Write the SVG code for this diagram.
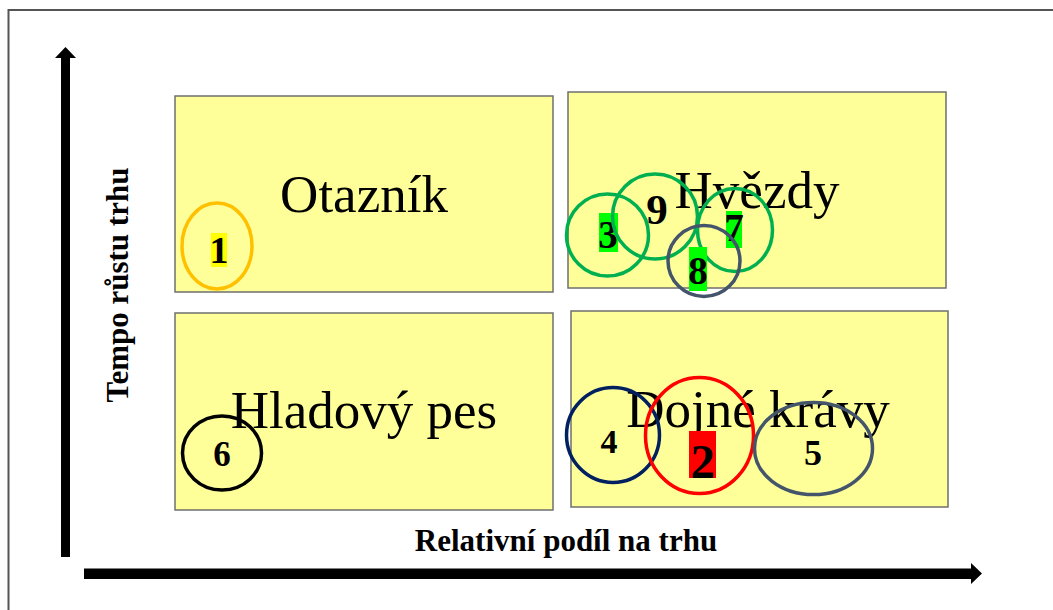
<svg xmlns="http://www.w3.org/2000/svg" width="1053" height="610" viewBox="0 0 1053 610">
<style>
.q{fill:#FFFF99;stroke:#6f6f6f;stroke-width:1.5}
.t{font-family:"Liberation Serif",serif;font-size:53px;fill:#000;text-anchor:middle}
.ax{font-family:"Liberation Serif",serif;font-size:31px;font-weight:bold;fill:#000;text-anchor:middle}
.n{font-family:"Liberation Serif",serif;font-weight:bold;fill:#000;text-anchor:middle}
.c{fill:none;stroke-width:3.5}
</style>
<rect width="1053" height="610" fill="#fff"/>
<rect x="8.5" y="10" width="1100" height="700" fill="none" stroke="#555" stroke-width="2"/>
<g id="q-otaznik"><rect class="q" x="175" y="96" width="378" height="196"/><text class="t" x="364" y="212">Otazník</text></g>
<g id="q-hvezdy"><rect class="q" x="568" y="92" width="378" height="196"/><text class="t" x="757" y="208">Hvězdy</text></g>
<g id="q-pes"><rect class="q" x="175" y="313" width="378" height="197"/><text class="t" x="364" y="428">Hladový pes</text></g>
<g id="q-kravy"><rect class="q" x="571" y="311" width="377" height="196"/><text class="t" x="758" y="427">Dojné krávy</text></g>
<g id="axes">
<path d="M61,557 V58 H55 L65.5,47 L76,58 H70 V557 Z" fill="#000"/>
<path d="M84,568.5 H971 V563 L982,573.5 L971,584 V579 H84 Z" fill="#000"/>
<text class="ax" x="566" y="551">Relativní podíl na trhu</text>
<text class="ax" font-size="33" transform="translate(128,285) rotate(-90)">Tempo růstu trhu</text>
</g>
<g id="p1"><ellipse class="c" cx="217" cy="246" rx="35" ry="43" stroke="#FFC000"/><rect x="211" y="233" width="16" height="34" fill="#FFFF00"/><text class="n" x="219" y="263" font-size="38">1</text></g>
<g id="p3"><circle class="c" cx="607.5" cy="235" r="41" stroke="#00B050"/><rect x="599" y="213" width="19" height="39" fill="#00FF00"/><text class="n" x="608" y="248" font-size="39">3</text></g>
<g id="p9"><circle class="c" cx="655" cy="216.5" r="42.5" stroke="#00B050"/><text class="n" x="657" y="224" font-size="43">9</text></g>
<g id="p7"><ellipse class="c" cx="735" cy="230" rx="37.5" ry="41.5" stroke="#00B050"/><rect x="726" y="211" width="16" height="37" fill="#00FF00"/><text class="n" x="734" y="241" font-size="39">7</text></g>
<g id="p8"><ellipse class="c" cx="704" cy="261" rx="36" ry="35.5" stroke="#44546A"/><rect x="689" y="247" width="18" height="44" fill="#00FF00"/><text class="n" x="698" y="284" font-size="39">8</text></g>
<g id="p4"><ellipse class="c" cx="613" cy="435" rx="46.5" ry="47.5" stroke="#002060"/><text class="n" x="609" y="453" font-size="34">4</text></g>
<g id="p2"><ellipse class="c" cx="699.5" cy="435.5" rx="54" ry="58" stroke="#FF0000"/><rect x="689" y="431" width="27" height="47" fill="#FF0000"/><text class="n" x="703" y="478" font-size="49">2</text></g>
<g id="p5"><ellipse class="c" cx="813.5" cy="448.5" rx="59" ry="46" stroke="#44546A"/><text class="n" x="813" y="465" font-size="36">5</text></g>
<g id="p6"><ellipse class="c" cx="222" cy="453" rx="39.5" ry="37" stroke="#000"/><text class="n" x="222" y="466" font-size="35">6</text></g>
</svg>
